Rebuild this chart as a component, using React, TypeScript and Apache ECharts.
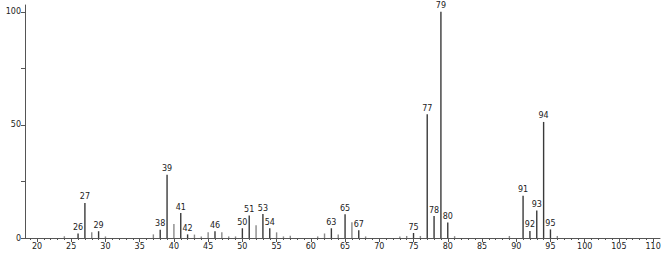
import React, { useEffect, useRef } from "react";
import * as echarts from "echarts";

const mz = [24, 26, 27, 28, 29, 30, 37, 38, 39, 40, 41, 42, 43, 44, 45, 46, 47, 48, 49, 50, 51, 52, 53, 54, 55, 56, 57, 61, 62, 63, 64, 65, 66, 67, 68, 73, 74, 75, 76, 77, 78, 79, 80, 81, 89, 91, 92, 93, 94, 95, 96];
const intensity = [0.8, 2, 15.5, 2.5, 3, 0.7, 1.6, 3.7, 28, 6.2, 11, 1.6, 1.5, 0.7, 2.5, 3, 2.5, 0.7, 0.7, 4.3, 9.9, 5.6, 10.6, 4.3, 2.5, 0.7, 1, 0.7, 2, 4.3, 1.6, 10.5, 7, 3.4, 0.7, 0.7, 0.9, 2.2, 0.9, 54.7, 9.7, 100, 6.9, 0.8, 0.9, 18.7, 3.1, 12.2, 51.3, 3.8, 0.9];
const labeled = [26, 27, 29, 38, 39, 41, 42, 46, 50, 51, 53, 54, 63, 65, 67, 75, 77, 78, 79, 80, 91, 92, 93, 94, 95];
const xMajorTicks = [20, 25, 30, 35, 40, 45, 50, 55, 60, 65, 70, 75, 80, 85, 90, 95, 100, 105, 110];
const xMinorTicks = Array.from({ length: 92 }, (_, i) => 19 + i);
const yTicks = [0, 25, 50, 75, 100];
const yLabels = [0, 50, 100];

export default function App() {
  const ref = useRef<HTMLDivElement>(null);
  useEffect(() => {
    if (!ref.current) return;
    const chart = echarts.init(ref.current, undefined, { renderer: "svg" });
    const font = "DejaVu Sans";
    const data = mz.map((m, i) => {
      const isLab = labeled.includes(m);
      return {
        value: [m, intensity[i]],
        itemStyle: { color: isLab ? "#3a3a3a" : "#8a8a8a" },
        label: { show: isLab },
      };
    });
    chart.setOption({
      animation: false,
      grid: { left: 25, right: 6, top: 5, bottom: 16 },
      xAxis: [
        {
          type: "value",
          min: 18.25,
          max: 111,
          axisLine: { show: true, lineStyle: { color: "#555", width: 1 } },
          splitLine: { show: false },
          axisTick: { show: true, length: 4, lineStyle: { color: "#555" }, customValues: xMajorTicks },
          axisLabel: { show: true, customValues: xMajorTicks, fontFamily: font, fontSize: 8, color: "#222", margin: 4 },
        },
        {
          type: "value",
          min: 18.25,
          max: 111,
          position: "bottom",
          axisLine: { show: false },
          splitLine: { show: false },
          axisTick: { show: true, length: 2, lineStyle: { color: "#555" }, customValues: xMinorTicks },
          axisLabel: { show: false },
        },
      ],
      yAxis: {
        type: "value",
        min: 0,
        max: 103,
        axisLine: { show: true, lineStyle: { color: "#555", width: 1 } },
        splitLine: { show: false },
        axisTick: { show: true, length: 4, lineStyle: { color: "#555" }, customValues: yTicks },
        axisLabel: { show: true, customValues: yLabels, fontFamily: font, fontSize: 8, color: "#222", margin: 4 },
      },
      series: [
        {
          type: "bar",
          xAxisIndex: 0,
          barWidth: 1.4,
          data,
          label: {
            position: "top",
            distance: 2,
            fontFamily: font,
            fontSize: 8,
            color: "#222",
            formatter: (p: any) => String(p.value[0]),
          },
        },
      ],
    });
    return () => chart.dispose();
  }, []);
  return <div ref={ref} style={{ position: "absolute", left: 0, top: 0, width: 666, height: 254 }} />;
}
